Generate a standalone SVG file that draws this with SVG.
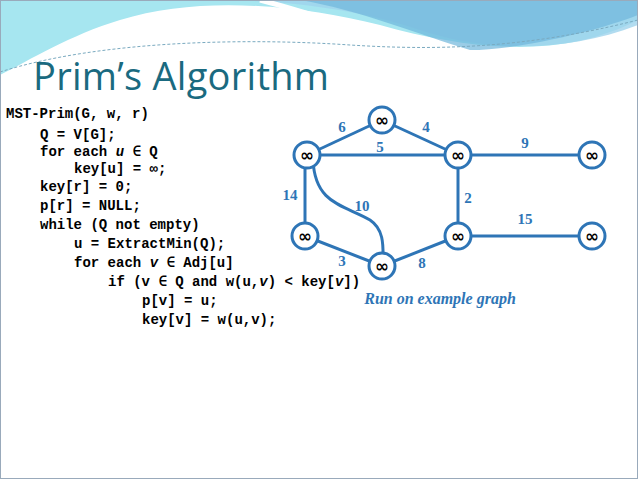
<svg xmlns="http://www.w3.org/2000/svg" width="638" height="479" viewBox="0 0 638 479">
<style>
.code{font-family:"Liberation Mono",monospace;font-size:14px;font-weight:bold;fill:#000}
.n circle{fill:#fff;stroke:#2e75b6;stroke-width:3}
.n text{font-family:"DejaVu Sans",sans-serif;font-size:17px;font-weight:bold;fill:#000;text-anchor:middle}
.e{stroke:#2e75b6;stroke-width:3;fill:none}
.w{font-family:"Liberation Serif",serif;font-size:15px;font-weight:bold;fill:#2e75b6;text-anchor:middle}
</style>
<rect x="0" y="0" width="638" height="479" fill="#fff"/>
<g id="banner">
<path d="M0,0 H638 V20 C560,60 470,50 380,25 C300,5 200,-5 120,20 C70,35 30,60 0,75 Z" fill="#a6e6f0"/>
<path d="M230,0 H638 V25 C560,55 480,50 420,30 C360,10 300,2 230,0 Z" fill="#9fd3ec" opacity="0.8"/>
<path d="M300,0 C360,10 420,35 470,50 C520,50 600,30 638,15 V0 Z" fill="#6fb6dc" opacity="0.7"/>
<path d="M260,0 C300,10 360,30 400,42" stroke="#fff" stroke-width="5" fill="none"/>
<path d="M0,72 C100,40 250,38 350,45 C430,50 520,50 638,20" stroke="#7aaac0" stroke-width="1" stroke-dasharray="3,2" fill="none"/>
</g>
<rect x="0.5" y="0.5" width="637" height="478" fill="none" stroke="#9ab" stroke-width="1"/>
<text x="33" y="90" font-family="Open Sans, sans-serif" font-size="38" fill="#1a6a80" textLength="296">Prim’s Algorithm</text>
<g id="code">
<text class="code" x="6" y="118">MST-Prim(G, w, r)</text>
<text class="code" x="40" y="139">Q = V[G];</text>
<text class="code" x="40" y="156">for each <tspan font-style="italic">u</tspan> ∈ Q</text>
<text class="code" x="74" y="173">key[u] = ∞;</text>
<text class="code" x="40" y="191">key[r] = 0;</text>
<text class="code" x="40" y="210">p[r] = NULL;</text>
<text class="code" x="40" y="229">while (Q not empty)</text>
<text class="code" x="74" y="248">u = ExtractMin(Q);</text>
<text class="code" x="74" y="267">for each <tspan font-style="italic">v</tspan> ∈ Adj[u]</text>
<text class="code" x="108" y="286">if (v ∈ Q and w(u,<tspan font-style="italic">v</tspan>) &lt; key[<tspan font-style="italic">v</tspan>])</text>
<text class="code" x="142" y="305">p[v] = u;</text>
<text class="code" x="142" y="324">key[v] = w(u,v);</text>
</g>
<g id="connectors">
<line class="e" x1="307" y1="155" x2="382" y2="120"/>
<line class="e" x1="382" y1="120" x2="458" y2="155"/>
<line class="e" x1="307" y1="155" x2="458" y2="155"/>
<line class="e" x1="458" y1="155" x2="592" y2="155"/>
<line class="e" x1="305" y1="155" x2="305" y2="236"/>
<line class="e" x1="458" y1="155" x2="458" y2="236"/>
<line class="e" x1="458" y1="236" x2="592" y2="236"/>
<line class="e" x1="305" y1="236" x2="382" y2="266"/>
<line class="e" x1="382" y1="266" x2="458" y2="236"/>
<path class="e" d="M313,160 C315,205 345,205 370,220 C385,230 383,248 383,263"/>
</g>
<g class="w">
<text x="342" y="132">6</text><text x="426" y="132">4</text>
<text x="380" y="152">5</text><text x="525" y="148">9</text>
<text x="290" y="200">14</text><text x="362" y="211">10</text>
<text x="468" y="203">2</text><text x="525" y="224">15</text>
<text x="342" y="266">3</text><text x="422" y="268">8</text>
</g>
<g id="A" class="n"><circle cx="382" cy="120" r="13"/><text x="382" y="126">∞</text></g>
<g id="B" class="n"><circle cx="307" cy="155" r="13"/><text x="307" y="161">∞</text></g>
<g id="C" class="n"><circle cx="458" cy="155" r="13"/><text x="458" y="161">∞</text></g>
<g id="D" class="n"><circle cx="592" cy="155" r="13"/><text x="592" y="161">∞</text></g>
<g id="E" class="n"><circle cx="305" cy="236" r="13"/><text x="305" y="242">∞</text></g>
<g id="F" class="n"><circle cx="458" cy="236" r="13"/><text x="458" y="242">∞</text></g>
<g id="G" class="n"><circle cx="592" cy="236" r="13"/><text x="592" y="242">∞</text></g>
<g id="H" class="n"><circle cx="382" cy="266" r="13"/><text x="382" y="272">∞</text></g>
<text x="440" y="304" text-anchor="middle" font-family="Liberation Serif, serif" font-size="16" font-style="italic" font-weight="bold" fill="#2e75b6">Run on example graph</text>
</svg>
